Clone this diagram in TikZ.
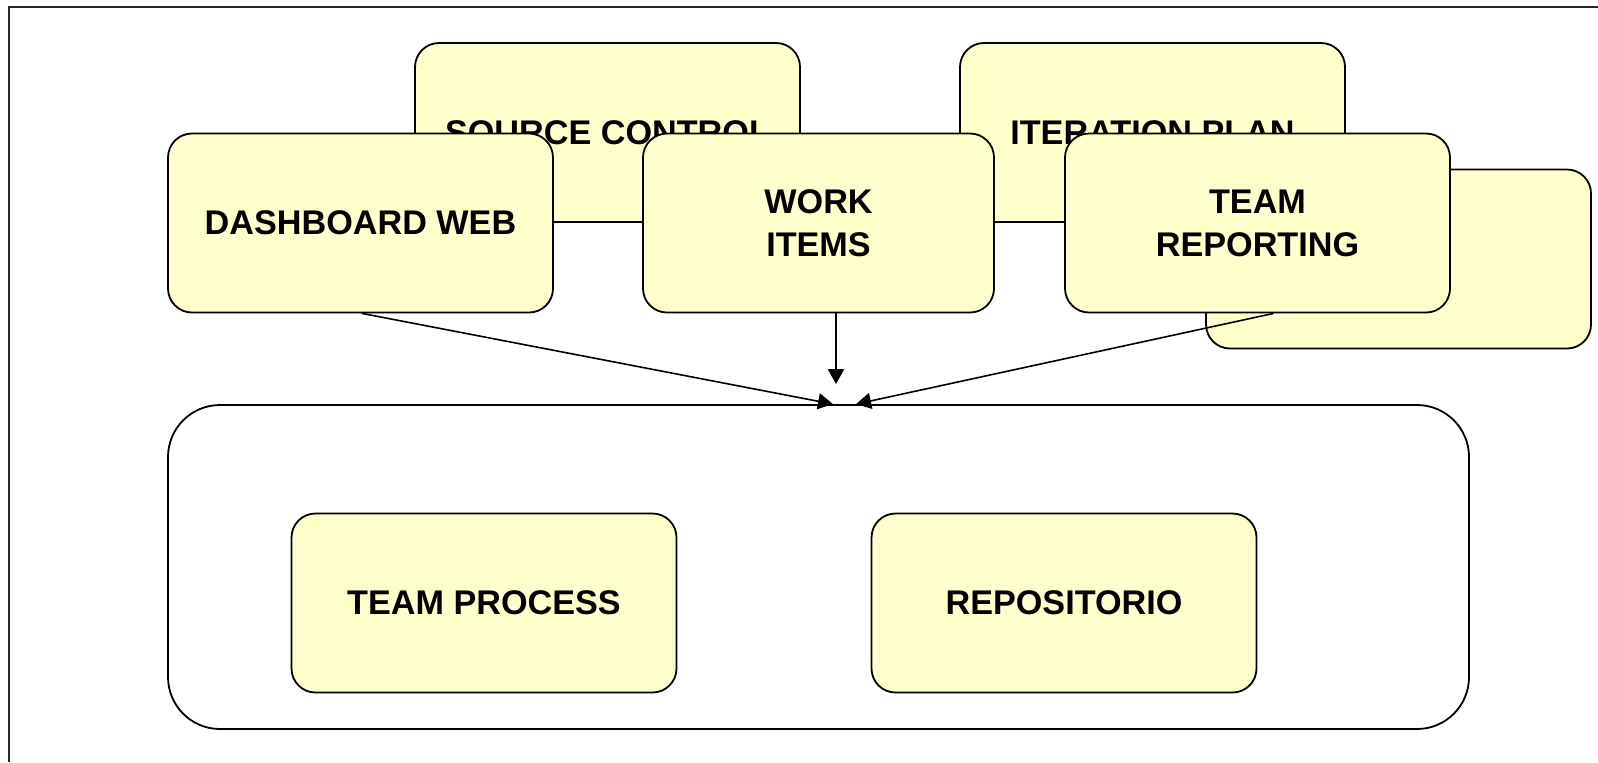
\documentclass[tikz,border=0pt]{standalone}
\usepackage{fontspec}
\setmainfont{Liberation Sans}
\usetikzlibrary{arrows.meta}
\definecolor{boxyellow}{RGB}{255,255,204}
\tikzset{
  ybox/.style={draw=black, fill=boxyellow, line width=0.9pt, rounded corners=12pt,
    minimum width=192.5pt, minimum height=89.5pt, inner sep=0pt, align=center,
    font=\fontsize{17.1}{21.4}\selectfont\bfseries},
  container/.style={draw=black, line width=0.9pt, rounded corners=26pt,
    minimum width=650.5pt, minimum height=162pt, inner sep=0pt},
  frameline/.style={draw=black!85, line width=1pt},
  conn/.style={draw=black, line width=0.8pt, -{Triangle[length=7.5pt,width=8pt]}}
}
\begin{document}
\begin{tikzpicture}[x=0.5pt,y=-0.5pt]
\useasboundingbox (0,0) rectangle (1598,762);
\fill[white] (0,0) rectangle (1598,762);
\draw[frameline] (9,762) -- (9,6.5) -- (1598,6.5);
% back row
\node[ybox] (src) at (607.5,132.5) {SOURCE CONTROL};
\node[ybox] (iter) at (1152.5,132.5) {ITERATION PLAN};
\node[ybox] (back) at (1398.5,259) {};
% front row
\node[ybox] (dash) at (360.5,223) {DASHBOARD WEB};
\node[ybox, minimum width=175.5pt] (work) at (818.5,223) {WORK\\ITEMS};
\node[ybox] (rep) at (1257.5,223) {TEAM\\REPORTING};
% container
\node[container] (cont) at (818.5,567) {};
\node[ybox] (proc) at (484,603) {TEAM PROCESS};
\node[ybox] (repo) at (1064,603) {REPOSITORIO};
% connectors
\coordinate (d1) at ([xshift=0.75pt]dash.south);
\coordinate (w1) at ([xshift=8.75pt]work.south);
\coordinate (r1) at ([xshift=8pt]rep.south);
\coordinate (tl) at ([xshift=7.25pt]cont.north);
\coordinate (tm) at ([xshift=8.75pt,yshift=10pt]cont.north);
\coordinate (tr) at ([xshift=18.75pt]cont.north);
\draw[conn] (d1) -- (tl);
\draw[conn] (w1) -- (tm);
\draw[conn] (r1) -- (tr);
\end{tikzpicture}
\end{document}
